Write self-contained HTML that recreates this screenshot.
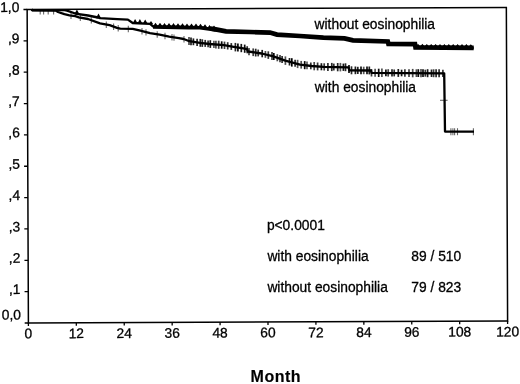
<!DOCTYPE html>
<html><head><meta charset="utf-8"><style>
html,body{margin:0;padding:0;background:#fff;width:520px;height:384px;overflow:hidden}
svg{display:block;filter:blur(0.35px)}
text{font-family:"Liberation Sans",sans-serif;font-size:13.8px;fill:#000;stroke:#000;stroke-width:0.3px}
</style></head><body>
<svg width="520" height="384" viewBox="0 0 520 384">
<g transform="rotate(-0.229 28.4 323.0)">
<rect x="28.4" y="9.50" width="479.2" height="313.5" fill="none" stroke="#000" stroke-width="1.5"/>
<line x1="24.7" y1="323.00" x2="28.4" y2="323.00" stroke="#000" stroke-width="1.3"/>
<text x="21.0" y="319.40" text-anchor="end">0,0</text>
<line x1="24.7" y1="291.65" x2="28.4" y2="291.65" stroke="#000" stroke-width="1.3"/>
<text x="20.6" y="294.05" text-anchor="end">,1</text>
<line x1="24.7" y1="260.30" x2="28.4" y2="260.30" stroke="#000" stroke-width="1.3"/>
<text x="20.6" y="262.70" text-anchor="end">,2</text>
<line x1="24.7" y1="228.95" x2="28.4" y2="228.95" stroke="#000" stroke-width="1.3"/>
<text x="20.6" y="231.35" text-anchor="end">,3</text>
<line x1="24.7" y1="197.60" x2="28.4" y2="197.60" stroke="#000" stroke-width="1.3"/>
<text x="20.6" y="200.00" text-anchor="end">,4</text>
<line x1="24.7" y1="166.25" x2="28.4" y2="166.25" stroke="#000" stroke-width="1.3"/>
<text x="20.6" y="168.65" text-anchor="end">,5</text>
<line x1="24.7" y1="134.90" x2="28.4" y2="134.90" stroke="#000" stroke-width="1.3"/>
<text x="20.6" y="137.30" text-anchor="end">,6</text>
<line x1="24.7" y1="103.55" x2="28.4" y2="103.55" stroke="#000" stroke-width="1.3"/>
<text x="20.6" y="105.95" text-anchor="end">,7</text>
<line x1="24.7" y1="72.20" x2="28.4" y2="72.20" stroke="#000" stroke-width="1.3"/>
<text x="20.6" y="74.60" text-anchor="end">,8</text>
<line x1="24.7" y1="40.85" x2="28.4" y2="40.85" stroke="#000" stroke-width="1.3"/>
<text x="20.6" y="43.25" text-anchor="end">,9</text>
<line x1="24.7" y1="9.50" x2="28.4" y2="9.50" stroke="#000" stroke-width="1.3"/>
<text x="20.6" y="11.90" text-anchor="end">1,0</text>
<line x1="28.40" y1="323.0" x2="28.40" y2="326.0" stroke="#000" stroke-width="1.3"/>
<text x="28.40" y="338.3" text-anchor="middle">0</text>
<line x1="76.32" y1="323.0" x2="76.32" y2="326.0" stroke="#000" stroke-width="1.3"/>
<text x="76.32" y="338.3" text-anchor="middle">12</text>
<line x1="124.24" y1="323.0" x2="124.24" y2="326.0" stroke="#000" stroke-width="1.3"/>
<text x="124.24" y="338.3" text-anchor="middle">24</text>
<line x1="172.16" y1="323.0" x2="172.16" y2="326.0" stroke="#000" stroke-width="1.3"/>
<text x="172.16" y="338.3" text-anchor="middle">36</text>
<line x1="220.08" y1="323.0" x2="220.08" y2="326.0" stroke="#000" stroke-width="1.3"/>
<text x="220.08" y="338.3" text-anchor="middle">48</text>
<line x1="268.00" y1="323.0" x2="268.00" y2="326.0" stroke="#000" stroke-width="1.3"/>
<text x="268.00" y="338.3" text-anchor="middle">60</text>
<line x1="315.92" y1="323.0" x2="315.92" y2="326.0" stroke="#000" stroke-width="1.3"/>
<text x="315.92" y="338.3" text-anchor="middle">72</text>
<line x1="363.84" y1="323.0" x2="363.84" y2="326.0" stroke="#000" stroke-width="1.3"/>
<text x="363.84" y="338.3" text-anchor="middle">84</text>
<line x1="411.76" y1="323.0" x2="411.76" y2="326.0" stroke="#000" stroke-width="1.3"/>
<text x="411.76" y="338.3" text-anchor="middle">96</text>
<line x1="459.68" y1="323.0" x2="459.68" y2="326.0" stroke="#000" stroke-width="1.3"/>
<text x="459.68" y="338.3" text-anchor="middle">108</text>
<line x1="507.60" y1="323.0" x2="507.60" y2="326.0" stroke="#000" stroke-width="1.3"/>
<text x="507.60" y="338.3" text-anchor="middle">120</text>
</g>
<g>
<text x="314.6" y="28.7">without eosinophilia</text>
<text x="314.8" y="91.5">with eosinophilia</text>
<text x="266.9" y="230.4">p&lt;0.0001</text>
<text x="267.4" y="261.4">with eosinophilia</text>
<text x="411.3" y="261.2">89 / 510</text>
<text x="267.4" y="292.3">without eosinophilia</text>
<text x="411.3" y="292.3">79 / 823</text>
<text x="250.6" y="381.9" style="font-weight:bold;font-size:16px;stroke-width:0.15px;letter-spacing:0.5px">Month</text>
<polyline points="31.5,9.6 32.5,10.2 64.5,10.1 67,10.6 75.3,13.5 76.9,13.8 88,15.5 98,17.5 100,18.2 117.3,19.1 127.9,19.6 132.7,23 150,23.8 153,26.3 188.5,27 200,27.2 214.4,29.1 226,31.4 250,32 270,32.6 277,34.6 300,36 323.4,37.6 344.5,38.4 353,40.4 387.8,41.5 388.4,43.9 415,44.2 415.5,47.4 473.7,47.8" fill="none" stroke="#000" stroke-width="2.3" stroke-linejoin="round"/>
<polyline points="153,27.0 188.5,27.7 200,27.9 214.4,29.8 216,30.117241379310343" fill="none" stroke="#000" stroke-width="3.4" stroke-linejoin="miter"/>
<polyline points="210,28.519444444444446 214.4,29.1 226,31.4 250,32 270,32.6 277,34.6 300,36 323.4,37.6 344.5,38.4 353,40.4 387.8,41.5 388.4,43.9 415,44.2 415.5,47.4 473.7,47.8" fill="none" stroke="#000" stroke-width="4.7" stroke-linejoin="miter"/>
<path d="M74.3,14.3L76.9,9.6L79.5,14.3ZM95.9,18.2L98.5,13.5L101.1,18.2ZM132.5,23.6L135.1,18.9L137.7,23.6ZM137.3,23.8L139.9,19.1L142.5,23.8ZM142.6,24.1L145.2,19.4L147.8,24.1ZM148.7,24.3L151.0,21.0L153.3,24.3ZM153.2,26.0L155.5,22.7L157.8,26.0ZM157.7,26.1L160.0,22.8L162.3,26.1ZM162.2,26.2L164.5,22.9L166.8,26.2ZM166.7,26.3L169.0,23.0L171.3,26.3ZM171.2,26.4L173.5,23.1L175.8,26.4ZM175.7,26.5L178.0,23.2L180.3,26.5ZM180.2,26.6L182.5,23.3L184.8,26.6ZM184.7,26.7L187.0,23.4L189.3,26.7ZM189.2,26.8L191.5,23.5L193.8,26.8ZM193.7,26.8L196.0,23.5L198.3,26.8ZM198.2,27.0L200.5,23.7L202.8,27.0ZM202.7,27.6L205.0,24.3L207.3,27.6ZM207.2,28.2L209.5,24.9L211.8,28.2ZM211.7,28.7L214.0,25.4L216.3,28.7ZM416.0,46.2L418.0,43.8L420.0,46.2ZM420.4,46.2L422.4,43.8L424.4,46.2ZM424.8,46.3L426.8,43.9L428.8,46.3ZM429.2,46.3L431.2,43.9L433.2,46.3ZM433.6,46.3L435.6,43.9L437.6,46.3ZM438.0,46.4L440.0,44.0L442.0,46.4ZM442.4,46.4L444.4,44.0L446.4,46.4ZM446.8,46.4L448.8,44.0L450.8,46.4ZM451.2,46.5L453.2,44.1L455.2,46.5ZM455.6,46.5L457.6,44.1L459.6,46.5ZM460.0,46.5L462.0,44.1L464.0,46.5ZM464.4,46.5L466.4,44.1L468.4,46.5ZM468.8,46.6L470.8,44.2L472.8,46.6Z" fill="#000"/>
<polyline points="31.5,9.6 32.5,10.4 55.8,10.6 58,12.0 64.4,14.2 69.5,15.3 75.3,16.2 78.8,17.3 88,19.0 100,23.3 109.6,25.2 117,27.8 120.2,28.7 132.7,28.8 140.4,30.7 150,33.2 159.6,34.7 169.2,36.6 178.8,38.1 183.7,39 189.4,41.2 200,42.8 209.6,44 224,45.2 233.7,46.9 243.3,48.4 247,49.2 248,51.5 261.7,53.5 273.4,56.3 285.2,60.6 300,64.6 311.7,66 323.4,66.9 348.5,67.3 349.4,70.3 371,70.5 371.5,72.8 444.2,73.3 445.0,131.6 474,131.6" fill="none" stroke="#000" stroke-width="2.3" stroke-linejoin="round"/>
<g stroke="#000" stroke-width="1.1" stroke-opacity="0.6"><line x1="450.9" y1="128.2" x2="450.9" y2="135.2"/><line x1="452.9" y1="128.2" x2="452.9" y2="135.2"/><line x1="454.6" y1="128.2" x2="454.6" y2="135.2"/><line x1="457.5" y1="128.2" x2="457.5" y2="135.2"/><line x1="473.4" y1="128.2" x2="473.4" y2="135.2"/><line x1="40.2" y1="10.5" x2="40.2" y2="14.5"/><line x1="43.6" y1="10.5" x2="43.6" y2="14.5"/><line x1="48.2" y1="10.5" x2="48.2" y2="14.5"/><line x1="53.6" y1="10.6" x2="53.6" y2="14.6"/><line x1="71.0" y1="12.5" x2="71.0" y2="18.9"/><line x1="80.3" y1="14.6" x2="80.3" y2="21.0"/><line x1="91.3" y1="17.2" x2="91.3" y2="23.6"/><line x1="106.3" y1="21.5" x2="106.3" y2="27.9"/><line x1="113.6" y1="23.6" x2="113.6" y2="30.0"/><line x1="118.2" y1="25.1" x2="118.2" y2="31.5"/><line x1="128.3" y1="25.8" x2="128.3" y2="32.2"/><line x1="142.0" y1="28.1" x2="142.0" y2="34.5"/><line x1="146.0" y1="29.2" x2="146.0" y2="35.6"/><line x1="157.2" y1="31.3" x2="157.2" y2="37.7"/><line x1="165.0" y1="32.8" x2="165.0" y2="39.2"/><line x1="172.0" y1="34.0" x2="172.0" y2="40.4"/><line x1="174.0" y1="34.4" x2="174.0" y2="40.8"/><line x1="184.0" y1="36.1" x2="184.0" y2="42.5"/><line x1="440" y1="100.3" x2="447.6" y2="100.3"/></g>
<g stroke="#000" stroke-width="1.7"><line x1="189.0" y1="37.0" x2="189.0" y2="45.1" stroke-opacity="0.72"/><line x1="191.0" y1="37.6" x2="191.0" y2="45.3" stroke-opacity="0.90"/><line x1="193.4" y1="38.4" x2="193.4" y2="45.2" stroke-opacity="0.89"/><line x1="197.1" y1="38.7" x2="197.1" y2="46.0" stroke-opacity="0.86"/><line x1="200.3" y1="38.9" x2="200.3" y2="46.8" stroke-opacity="0.88"/><line x1="202.3" y1="39.3" x2="202.3" y2="46.9" stroke-opacity="0.84"/><line x1="205.2" y1="39.9" x2="205.2" y2="46.9" stroke-opacity="0.82"/><line x1="208.1" y1="40.4" x2="208.1" y2="47.2" stroke-opacity="0.82"/><line x1="210.3" y1="40.2" x2="210.3" y2="47.9" stroke-opacity="0.92"/><line x1="213.9" y1="40.7" x2="213.9" y2="48.0" stroke-opacity="0.66"/><line x1="215.9" y1="40.7" x2="215.9" y2="48.4" stroke-opacity="0.72"/><line x1="218.7" y1="40.7" x2="218.7" y2="48.8" stroke-opacity="0.79"/><line x1="221.7" y1="41.3" x2="221.7" y2="48.7" stroke-opacity="0.97"/><line x1="224.5" y1="41.6" x2="224.5" y2="49.0" stroke-opacity="0.77"/><line x1="227.7" y1="42.2" x2="227.7" y2="49.5" stroke-opacity="0.82"/><line x1="231.3" y1="43.1" x2="231.3" y2="49.9" stroke-opacity="0.84"/><line x1="235.4" y1="42.9" x2="235.4" y2="51.4" stroke-opacity="0.85"/><line x1="237.9" y1="43.5" x2="237.9" y2="51.6" stroke-opacity="0.98"/><line x1="241.3" y1="43.9" x2="241.3" y2="52.2" stroke-opacity="0.91"/><line x1="244.7" y1="44.6" x2="244.7" y2="52.8" stroke-opacity="0.94"/><line x1="247.2" y1="46.2" x2="247.2" y2="53.3" stroke-opacity="0.82"/><line x1="249.0" y1="48.0" x2="249.0" y2="55.3" stroke-opacity="0.74"/><line x1="253.2" y1="48.4" x2="253.2" y2="56.1" stroke-opacity="0.76"/><line x1="255.7" y1="48.7" x2="255.7" y2="56.5" stroke-opacity="0.85"/><line x1="258.2" y1="49.6" x2="258.2" y2="56.4" stroke-opacity="0.80"/><line x1="262.2" y1="49.9" x2="262.2" y2="57.3" stroke-opacity="0.90"/><line x1="265.4" y1="51.0" x2="265.4" y2="57.8" stroke-opacity="0.71"/><line x1="268.3" y1="51.3" x2="268.3" y2="58.9" stroke-opacity="0.79"/><line x1="272.0" y1="52.0" x2="272.0" y2="59.9" stroke-opacity="0.77"/><line x1="273.8" y1="53.0" x2="273.8" y2="60.0" stroke-opacity="0.98"/><line x1="277.3" y1="54.2" x2="277.3" y2="61.3" stroke-opacity="0.70"/><line x1="280.0" y1="55.1" x2="280.0" y2="62.3" stroke-opacity="0.77"/><line x1="282.1" y1="55.9" x2="282.1" y2="63.0" stroke-opacity="0.84"/><line x1="285.4" y1="56.4" x2="285.4" y2="64.9" stroke-opacity="0.69"/><line x1="289.5" y1="58.0" x2="289.5" y2="65.5" stroke-opacity="0.88"/><line x1="291.8" y1="58.2" x2="291.8" y2="66.6" stroke-opacity="1.00"/><line x1="295.1" y1="59.8" x2="295.1" y2="66.7" stroke-opacity="0.84"/><line x1="297.6" y1="59.8" x2="297.6" y2="68.1" stroke-opacity="0.67"/><line x1="301.2" y1="60.9" x2="301.2" y2="68.6" stroke-opacity="0.71"/><line x1="304.7" y1="61.1" x2="304.7" y2="69.2" stroke-opacity="0.98"/><line x1="307.0" y1="61.6" x2="307.0" y2="69.3" stroke-opacity="0.65"/><line x1="310.8" y1="62.5" x2="310.8" y2="69.3" stroke-opacity="0.80"/><line x1="314.2" y1="62.0" x2="314.2" y2="70.3" stroke-opacity="0.73"/><line x1="317.6" y1="62.5" x2="317.6" y2="70.4" stroke-opacity="0.79"/><line x1="321.4" y1="63.2" x2="321.4" y2="70.3" stroke-opacity="0.90"/><line x1="324.2" y1="63.3" x2="324.2" y2="70.5" stroke-opacity="0.78"/><line x1="327.9" y1="62.9" x2="327.9" y2="71.0" stroke-opacity="0.82"/><line x1="331.8" y1="62.9" x2="331.8" y2="71.1" stroke-opacity="0.83"/><line x1="333.8" y1="63.6" x2="333.8" y2="70.5" stroke-opacity="0.81"/><line x1="337.7" y1="63.0" x2="337.7" y2="71.3" stroke-opacity="0.85"/><line x1="340.4" y1="62.9" x2="340.4" y2="71.4" stroke-opacity="0.65"/><line x1="343.4" y1="63.6" x2="343.4" y2="70.9" stroke-opacity="0.92"/><line x1="345.5" y1="63.3" x2="345.5" y2="71.2" stroke-opacity="0.85"/><line x1="349.0" y1="64.9" x2="349.0" y2="72.9" stroke-opacity="0.96"/><line x1="351.5" y1="66.3" x2="351.5" y2="74.3" stroke-opacity="0.84"/><line x1="355.4" y1="66.5" x2="355.4" y2="74.2" stroke-opacity="0.88"/><line x1="357.8" y1="66.8" x2="357.8" y2="74.0" stroke-opacity="0.88"/><line x1="361.0" y1="66.5" x2="361.0" y2="74.3" stroke-opacity="0.93"/><line x1="363.7" y1="66.7" x2="363.7" y2="74.2" stroke-opacity="0.66"/><line x1="367.0" y1="66.6" x2="367.0" y2="74.3" stroke-opacity="0.95"/><line x1="369.3" y1="66.5" x2="369.3" y2="74.4" stroke-opacity="0.88"/><line x1="371.5" y1="69.1" x2="371.5" y2="76.5" stroke-opacity="0.77"/><line x1="375.1" y1="68.8" x2="375.1" y2="76.8" stroke-opacity="0.68"/><line x1="378.7" y1="68.7" x2="378.7" y2="77.0" stroke-opacity="0.96"/><line x1="381.9" y1="68.6" x2="381.9" y2="77.1" stroke-opacity="0.70"/><line x1="385.9" y1="69.5" x2="385.9" y2="76.3" stroke-opacity="0.96"/><line x1="388.2" y1="69.2" x2="388.2" y2="76.6" stroke-opacity="0.74"/><line x1="392.0" y1="69.3" x2="392.0" y2="76.6" stroke-opacity="0.88"/><line x1="394.2" y1="69.5" x2="394.2" y2="76.4" stroke-opacity="0.82"/><line x1="398.3" y1="69.0" x2="398.3" y2="76.9" stroke-opacity="0.90"/><line x1="401.6" y1="69.7" x2="401.6" y2="76.3" stroke-opacity="0.93"/><line x1="404.9" y1="69.3" x2="404.9" y2="76.8" stroke-opacity="0.80"/><line x1="409.0" y1="69.2" x2="409.0" y2="76.9" stroke-opacity="0.75"/><line x1="412.7" y1="68.9" x2="412.7" y2="77.3" stroke-opacity="0.72"/><line x1="416.4" y1="69.3" x2="416.4" y2="77.0" stroke-opacity="0.71"/><line x1="418.3" y1="69.2" x2="418.3" y2="77.0" stroke-opacity="0.97"/><line x1="421.0" y1="69.0" x2="421.0" y2="77.3" stroke-opacity="0.70"/><line x1="423.0" y1="69.2" x2="423.0" y2="77.1" stroke-opacity="0.96"/><line x1="425.3" y1="69.7" x2="425.3" y2="76.7" stroke-opacity="0.80"/><line x1="427.6" y1="69.2" x2="427.6" y2="77.2" stroke-opacity="0.91"/><line x1="431.5" y1="69.5" x2="431.5" y2="77.0" stroke-opacity="0.87"/><line x1="433.6" y1="69.3" x2="433.6" y2="77.2" stroke-opacity="0.77"/><line x1="436.1" y1="69.3" x2="436.1" y2="77.2" stroke-opacity="0.85"/><line x1="439.1" y1="69.3" x2="439.1" y2="77.3" stroke-opacity="0.83"/><line x1="442.9" y1="69.7" x2="442.9" y2="76.9" stroke-opacity="0.80"/></g>
</g>
</svg>
</body></html>
